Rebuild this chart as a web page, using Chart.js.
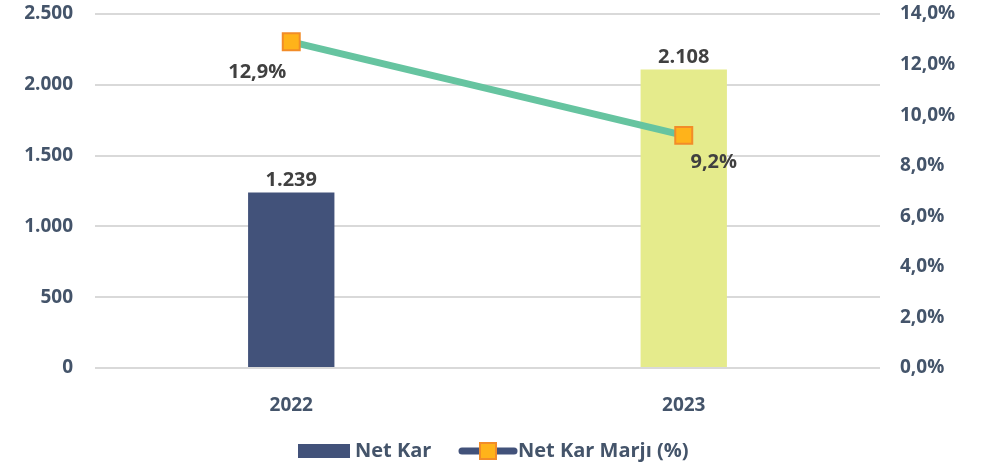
<!DOCTYPE html>
<html>
<head>
<meta charset="utf-8">
<script src="https://cdn.jsdelivr.net/npm/chart.js"></script>
<style>
  html,body{margin:0;padding:0;background:#fff;}
  #wrap{width:984px;height:466px;position:relative;}
</style>
</head>
<body>
<div id="wrap"><canvas id="c"></canvas></div>
<script>
/* ===== data ===== */
const years = ['2022', '2023'];
const netKar = [1239, 2108];
const netKarMarji = [12.9, 9.2];
const leftTicks = [0, 500, 1000, 1500, 2000, 2500];
const rightTicks = [0, 2, 4, 6, 8, 10, 12, 14];

/* ===== style ===== */
const FONT = '"Open Sans", Lato, sans-serif';
const AXIS_COL = '#44546A';
const LABEL_COL = '#404040';
const BAR_COLS = ['#42527A', '#E5EB8C'];
const LINE_COL = '#66C4A0';
const MARK_FILL = '#FFB31A';
const MARK_EDGE = '#F28C28';

const fmtNum = v => String(Math.round(v)).replace(/\B(?=(\d{3})+(?!\d))/g, '.');
const fmtPct = (v, d=1) => v.toFixed(d).replace('.', ',') + '%';
const noPad = s => { s.paddingTop = 0; s.paddingBottom = 0; s.paddingLeft = 0; s.paddingRight = 0; };

/* data labels */
const labelPlugin = {
  id: 'labels',
  afterDatasetsDraw(chart){
    const ctx = chart.ctx;
    ctx.save();
    ctx.font = 'bold 20px ' + FONT;
    ctx.fillStyle = LABEL_COL;
    ctx.textAlign = 'center';
    ctx.textBaseline = 'bottom';
    chart.getDatasetMeta(0).data.forEach((b,i)=>{
      ctx.fillText(fmtNum(netKar[i]), b.x, b.y - 2);
    });
    const off = [[-34, 30], [30, 27]];
    ctx.textBaseline = 'middle';
    chart.getDatasetMeta(1).data.forEach((p,i)=>{
      ctx.fillText(fmtPct(netKarMarji[i]), p.x + off[i][0], p.y + off[i][1]);
    });
    ctx.restore();
  }
};

/* legend drawn at bottom */
const legendPlugin = {
  id: 'bottomLegend',
  afterDraw(chart){
    const ctx = chart.ctx;
    const y = 451;
    ctx.save();
    ctx.font = 'bold 20px ' + FONT;
    ctx.fillStyle = BAR_COLS[0];
    ctx.fillRect(298, y - 7, 52, 14);
    ctx.fillStyle = AXIS_COL;
    ctx.textBaseline = 'middle';
    ctx.textAlign = 'left';
    ctx.fillText('Net Kar', 355, y);
    ctx.strokeStyle = BAR_COLS[0];
    ctx.lineWidth = 7;
    ctx.lineCap = 'round';
    ctx.beginPath(); ctx.moveTo(462, y); ctx.lineTo(514, y); ctx.stroke();
    ctx.fillStyle = MARK_FILL; ctx.strokeStyle = MARK_EDGE; ctx.lineWidth = 2;
    ctx.fillRect(480, y - 8, 16, 16); ctx.strokeRect(480, y - 8, 16, 16);
    ctx.fillStyle = AXIS_COL;
    ctx.fillText('Net Kar Marjı (%)', 518, y);
    ctx.restore();
  }
};

new Chart(document.getElementById('c'), {
  data: {
    labels: years,
    datasets: [
      {
        type: 'bar', label: 'Net Kar', data: netKar, yAxisID: 'y',
        backgroundColor: BAR_COLS, barPercentage: 0.44, categoryPercentage: 0.5, order: 2
      },
      {
        type: 'line', label: 'Net Kar Marjı (%)', data: netKarMarji, yAxisID: 'y1',
        borderColor: LINE_COL, borderWidth: 7, pointStyle: 'rect', pointRadius: 12,
        pointBackgroundColor: MARK_FILL, pointBorderColor: MARK_EDGE, pointBorderWidth: 2,
        tension: 0, order: 1
      }
    ]
  },
  options: {
    responsive: true, maintainAspectRatio: false, animation: false,
    layout: { padding: { top: 14, bottom: 0, left: 0, right: 0 } },
    plugins: { legend: { display: false }, tooltip: { enabled: false } },
    scales: {
      x: {
        grid: { display: false }, border: { display: false },
        ticks: { color: AXIS_COL, font: { family: FONT, size: 19, weight: 'bold' }, padding: 18 },
        afterFit: s => { s.height = 98; noPad(s); }
      },
      y: {
        position: 'left', min: 0, max: leftTicks[leftTicks.length-1],
        afterBuildTicks: s => { s.ticks = leftTicks.map(v => ({ value: v })); },
        grid: { color: '#D9D9D9', lineWidth: 2, drawTicks: false },
        border: { display: false },
        ticks: { color: AXIS_COL, font: { family: FONT, size: 19, weight: 'bold' }, padding: 22, callback: v => fmtNum(v) },
        afterFit: s => { s.width = 95; noPad(s); }
      },
      y1: {
        position: 'right', min: 0, max: rightTicks[rightTicks.length-1],
        afterBuildTicks: s => { s.ticks = rightTicks.map(v => ({ value: v })); },
        grid: { display: false }, border: { display: false },
        ticks: { color: AXIS_COL, font: { family: FONT, size: 19, weight: 'bold' }, padding: 12, callback: v => fmtPct(v) },
        afterFit: s => { s.width = 104; noPad(s); }
      }
    }
  },
  plugins: [labelPlugin, legendPlugin]
});
</script>
</body>
</html>
